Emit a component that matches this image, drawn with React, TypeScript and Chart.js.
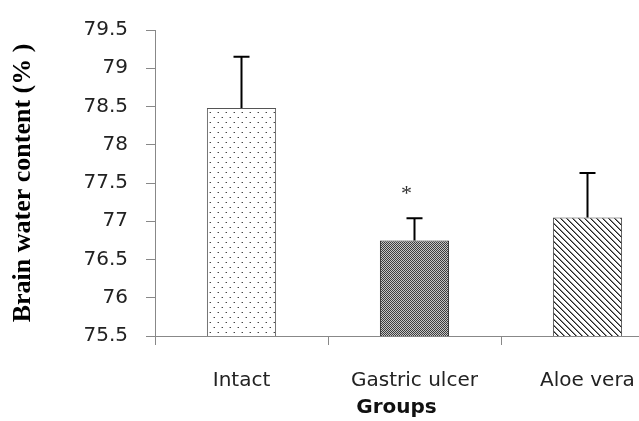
import React, { useEffect, useRef } from "react";
import { Chart, registerables } from "chart.js";

Chart.register(...registerables);

const categories = ["Intact", "Gastric ulcer", "Aloe vera"];
const means = [78.48, 76.75, 77.05];
const errors = [0.67, 0.29, 0.58];
const marks = ["", "*", ""];
const yMin = 75.5;
const yMax = 79.5;
const yStep = 0.5;
const yTitle = "Brain water content (% )";
const xTitle = "Groups";

function makePattern(kind: string): CanvasPattern | string {
  const c = document.createElement("canvas");
  const g = c.getContext("2d");
  if (!g) return "#888";
  if (kind === "dots") {
    c.width = 8; c.height = 10;
    g.fillStyle = "#ffffff"; g.fillRect(0, 0, 8, 10);
    g.fillStyle = "#444444"; g.fillRect(2, 2, 1, 1); g.fillRect(6, 7, 1, 1);
    g.fillStyle = "#b0b0b0"; g.fillRect(1, 2, 1, 1); g.fillRect(5, 7, 1, 1);
  } else if (kind === "checker") {
    c.width = 2; c.height = 2;
    g.fillStyle = "#3c3c3c"; g.fillRect(0, 0, 2, 2);
    g.fillStyle = "#c4c4c4"; g.fillRect(1, 0, 1, 1); g.fillRect(0, 1, 1, 1);
  } else {
    c.width = 6; c.height = 6;
    g.fillStyle = "#ffffff"; g.fillRect(0, 0, 6, 6);
    for (let i = 0; i < 6; i++) {
      g.fillStyle = "#222222"; g.fillRect(i, i, 1, 1);
      g.fillStyle = "#888888"; g.fillRect((i + 1) % 6, i, 1, 1);
    }
  }
  return g.createPattern(c, "repeat") || "#888";
}

const errorBarPlugin = {
  id: "errorBars",
  afterDatasetsDraw(chart: any) {
    const ctx = chart.ctx;
    const meta = chart.getDatasetMeta(0);
    const ys = chart.scales.y;
    ctx.save();
    ctx.strokeStyle = "#000";
    ctx.lineWidth = 2;
    meta.data.forEach((bar: any, i: number) => {
      const top = ys.getPixelForValue(means[i] + errors[i]);
      const base = ys.getPixelForValue(means[i]);
      ctx.beginPath();
      ctx.moveTo(bar.x, base);
      ctx.lineTo(bar.x, top);
      ctx.moveTo(bar.x - 8, top);
      ctx.lineTo(bar.x + 8, top);
      ctx.stroke();
      if (marks[i]) {
        ctx.fillStyle = "#333";
        ctx.font = "22px 'Liberation Serif'";
        ctx.textAlign = "center";
        ctx.textBaseline = "middle";
        ctx.fillText(marks[i], bar.x - 8, top - 24);
      }
    });
    const xs = chart.scales.x;
    ctx.fillStyle = "#111";
    ctx.font = "bold 20px 'DejaVu Sans'";
    ctx.textAlign = "center";
    ctx.textBaseline = "middle";
    ctx.fillText(xTitle, xs.getPixelForValue(1) - 18, chart.chartArea.bottom + 72);
    ctx.restore();
  },
};

export default function App() {
  const ref = useRef<HTMLCanvasElement>(null);
  useEffect(() => {
    if (!ref.current) return;
    const chart = new Chart(ref.current, {
      type: "bar",
      data: {
        labels: categories,
        datasets: [
          {
            data: means,
            backgroundColor: [makePattern("dots"), makePattern("checker"), makePattern("hatch")] as any,
            borderColor: ["#555", "#222", "#444"],
            borderWidth: 1,
            barPercentage: 0.4,
            categoryPercentage: 1,
          },
        ],
      },
      options: {
        animation: false,
        responsive: false,
        maintainAspectRatio: false,
        layout: { padding: { left: 0, right: 6, top: 25, bottom: 0 } },
        plugins: { legend: { display: false }, tooltip: { enabled: false } },
        scales: {
          x: {
            grid: { drawOnChartArea: false, tickLength: 9, color: "#888", offset: true },
            border: { color: "#888", width: 1 },
            ticks: { color: "#222", font: { family: "DejaVu Sans", size: 20 }, padding: 24 },
            afterFit: (s: any) => { s.height = 85; },
          },
          y: {
            min: yMin,
            max: yMax,
            grid: { drawOnChartArea: false, tickLength: 9, color: "#888" },
            border: { color: "#888", width: 1 },
            ticks: {
              stepSize: yStep,
              color: "#222",
              font: { family: "DejaVu Sans", size: 20 },
              padding: 18,
              callback: (v: any) => String(v),
            },
            title: {
              display: true,
              text: yTitle,
              color: "#000",
              font: { family: "Liberation Serif", size: 26, weight: "bold" },
              padding: { top: 8, bottom: 0 },
            },
            afterFit: (s: any) => { s.width = 155; },
          },
        },
      },
      plugins: [errorBarPlugin],
    });
    return () => chart.destroy();
  }, []);
  return (
    <div style={{ position: "fixed", left: 0, top: 0, width: 639, height: 421, overflow: "hidden", background: "#fff" }}>
      <canvas ref={ref} width={680} height={421} style={{ display: "block" }} />
    </div>
  );
}
